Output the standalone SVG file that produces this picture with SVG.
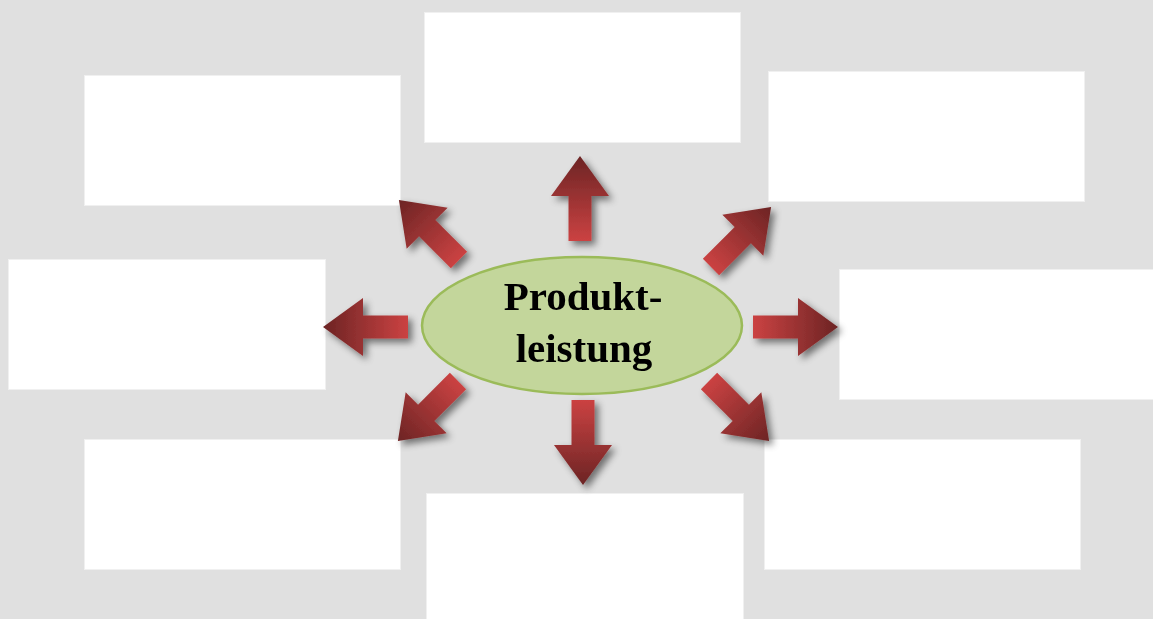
<svg xmlns="http://www.w3.org/2000/svg" width="1153" height="619" viewBox="0 0 1153 619">
  <style>
    .box { fill: #ffffff; stroke: #f0f0f0; stroke-width: 1; }
    .hub { fill: #c3d69b; stroke: #9bbb59; stroke-width: 2.5; }
    .label { font-family: "Liberation Serif", "Times New Roman", serif; font-weight: bold; font-size: 41px; fill: #000000; text-anchor: middle; }
    .arrow { fill: url(#arrowFill); }
  </style>
  <defs>
    <!-- tail is bright red, tip is dark red -->
    <linearGradient id="arrowFill" x1="0" y1="0" x2="1" y2="0">
      <stop offset="0" stop-color="#cb4242"/>
      <stop offset="1" stop-color="#6c2424"/>
    </linearGradient>
    <filter id="softShadow" x="-20%" y="-20%" width="150%" height="150%">
      <feGaussianBlur in="SourceAlpha" stdDeviation="3.5"/>
      <feOffset dx="4" dy="4" result="blur"/>
      <feFlood flood-color="#000000" flood-opacity="0.5"/>
      <feComposite in2="blur" operator="in"/>
      <feMerge>
        <feMergeNode/>
        <feMergeNode in="SourceGraphic"/>
      </feMerge>
    </filter>
    <!-- block arrow pointing along +x, tail at the origin -->
    <path id="blockArrow" d="M0,-11.5 H45 V-29 L85,0 L45,29 V11.5 H0 Z"/>
  </defs>

  <rect x="0" y="0" width="1153" height="619" fill="#e0e0e0"/>

  <g id="box-top">
    <rect class="box" x="424.5" y="12.5" width="316" height="130"/>
  </g>
  <g id="box-top-left">
    <rect class="box" x="84.5" y="75.5" width="316" height="130"/>
  </g>
  <g id="box-top-right">
    <rect class="box" x="768.5" y="71.5" width="316" height="130"/>
  </g>
  <g id="box-left">
    <rect class="box" x="8.5" y="259.5" width="317" height="130"/>
  </g>
  <g id="box-right">
    <rect class="box" x="839.5" y="269.5" width="320" height="130"/>
  </g>
  <g id="box-bottom-left">
    <rect class="box" x="84.5" y="439.5" width="316" height="130"/>
  </g>
  <g id="box-bottom-right">
    <rect class="box" x="764.5" y="439.5" width="316" height="130"/>
  </g>
  <g id="box-bottom">
    <rect class="box" x="426.5" y="493.5" width="317" height="130"/>
  </g>

  <g id="connectors" filter="url(#softShadow)">
    <use class="arrow" href="#blockArrow" transform="translate(580,241) rotate(-90)"/>
    <use class="arrow" href="#blockArrow" transform="translate(583,400) rotate(90)"/>
    <use class="arrow" href="#blockArrow" transform="translate(408,327) rotate(180)"/>
    <use class="arrow" href="#blockArrow" transform="translate(753,327)"/>
    <use class="arrow" href="#blockArrow" transform="translate(459,260) rotate(-135)"/>
    <use class="arrow" href="#blockArrow" transform="translate(711,267) rotate(-45)"/>
    <use class="arrow" href="#blockArrow" transform="translate(458,381) rotate(135)"/>
    <use class="arrow" href="#blockArrow" transform="translate(709,381) rotate(45)"/>
  </g>

  <g id="hub">
    <ellipse class="hub" cx="582" cy="325.5" rx="160" ry="68.5"/>
    <text class="label" x="583" y="310">Produkt-</text>
    <text class="label" x="584" y="362">leistung</text>
  </g>
</svg>
